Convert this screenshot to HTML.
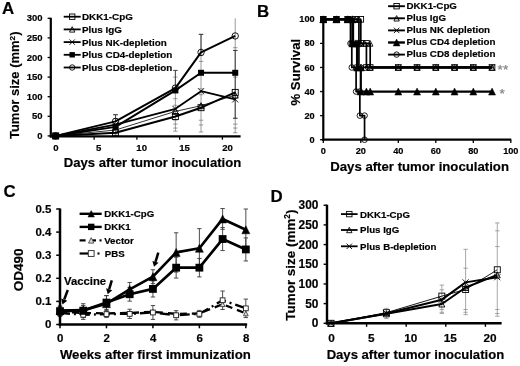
<!DOCTYPE html>
<html><head><meta charset="utf-8"><title>Figure</title>
<style>
html,body{margin:0;padding:0;background:#fff;}
svg{display:block;font-family:'Liberation Sans', sans-serif;filter:blur(0.3px);}
</style></head>
<body>
<svg width="520" height="366" viewBox="0 0 520 366">
<rect width="520" height="366" fill="#fff"/>
<text transform="translate(2.1,14.4) scale(0.97,1)" font-size="17.4" font-weight="bold" stroke="#000" stroke-width="0.18">A</text>
<line x1="115.53" y1="114.73" x2="115.53" y2="135.90" stroke="#707070" stroke-width="0.7" />
<line x1="113.33" y1="114.73" x2="117.73" y2="114.73" stroke="#707070" stroke-width="0.7" />
<line x1="113.33" y1="118.65" x2="117.73" y2="118.65" stroke="#707070" stroke-width="0.7" />
<line x1="113.33" y1="133.94" x2="117.73" y2="133.94" stroke="#707070" stroke-width="0.7" />
<line x1="115.53" y1="114.73" x2="115.53" y2="121.40" stroke="#444" stroke-width="1.0" />
<line x1="113.12" y1="114.73" x2="117.93" y2="114.73" stroke="#444" stroke-width="1.0" />
<line x1="175.38" y1="70.44" x2="175.38" y2="131.20" stroke="#707070" stroke-width="0.7" />
<line x1="173.18" y1="70.44" x2="177.57" y2="70.44" stroke="#707070" stroke-width="0.7" />
<line x1="173.18" y1="77.10" x2="177.57" y2="77.10" stroke="#707070" stroke-width="0.7" />
<line x1="173.18" y1="98.66" x2="177.57" y2="98.66" stroke="#707070" stroke-width="0.7" />
<line x1="173.18" y1="105.32" x2="177.57" y2="105.32" stroke="#707070" stroke-width="0.7" />
<line x1="173.18" y1="120.22" x2="177.57" y2="120.22" stroke="#707070" stroke-width="0.7" />
<line x1="173.18" y1="124.14" x2="177.57" y2="124.14" stroke="#707070" stroke-width="0.7" />
<line x1="173.18" y1="128.06" x2="177.57" y2="128.06" stroke="#707070" stroke-width="0.7" />
<line x1="173.18" y1="131.20" x2="177.57" y2="131.20" stroke="#707070" stroke-width="0.7" />
<line x1="201.03" y1="34.37" x2="201.03" y2="131.98" stroke="#707070" stroke-width="0.7" />
<line x1="198.83" y1="34.37" x2="203.22" y2="34.37" stroke="#707070" stroke-width="0.7" />
<line x1="198.83" y1="55.54" x2="203.22" y2="55.54" stroke="#707070" stroke-width="0.7" />
<line x1="198.83" y1="61.42" x2="203.22" y2="61.42" stroke="#707070" stroke-width="0.7" />
<line x1="198.83" y1="88.86" x2="203.22" y2="88.86" stroke="#707070" stroke-width="0.7" />
<line x1="198.83" y1="94.74" x2="203.22" y2="94.74" stroke="#707070" stroke-width="0.7" />
<line x1="198.83" y1="120.22" x2="203.22" y2="120.22" stroke="#707070" stroke-width="0.7" />
<line x1="198.83" y1="124.92" x2="203.22" y2="124.92" stroke="#707070" stroke-width="0.7" />
<line x1="198.83" y1="131.98" x2="203.22" y2="131.98" stroke="#707070" stroke-width="0.7" />
<line x1="235.23" y1="18.30" x2="235.23" y2="132.76" stroke="#707070" stroke-width="0.7" />
<line x1="233.03" y1="47.70" x2="237.43" y2="47.70" stroke="#707070" stroke-width="0.7" />
<line x1="233.03" y1="50.44" x2="237.43" y2="50.44" stroke="#707070" stroke-width="0.7" />
<line x1="233.03" y1="77.10" x2="237.43" y2="77.10" stroke="#707070" stroke-width="0.7" />
<line x1="233.03" y1="118.26" x2="237.43" y2="118.26" stroke="#707070" stroke-width="0.7" />
<line x1="233.03" y1="124.14" x2="237.43" y2="124.14" stroke="#707070" stroke-width="0.7" />
<line x1="233.03" y1="128.06" x2="237.43" y2="128.06" stroke="#707070" stroke-width="0.7" />
<line x1="233.03" y1="132.76" x2="237.43" y2="132.76" stroke="#707070" stroke-width="0.7" />
<line x1="235.23" y1="50.44" x2="235.23" y2="118.26" stroke="#333" stroke-width="0.9" />
<line x1="233.03" y1="50.44" x2="237.43" y2="50.44" stroke="#333" stroke-width="0.9" />
<line x1="233.03" y1="118.26" x2="237.43" y2="118.26" stroke="#333" stroke-width="0.9" />
<line x1="201.03" y1="34.37" x2="201.03" y2="52.40" stroke="#333" stroke-width="0.9" />
<line x1="198.83" y1="34.37" x2="203.22" y2="34.37" stroke="#333" stroke-width="0.9" />
<line x1="175.38" y1="70.44" x2="175.38" y2="88.86" stroke="#444" stroke-width="0.9" />
<line x1="173.18" y1="70.44" x2="177.57" y2="70.44" stroke="#444" stroke-width="0.9" />
<polyline points="55.67,135.90 115.53,132.76 175.38,116.50 201.03,107.68 235.23,92.39" fill="none" stroke="#000" stroke-width="2.0" stroke-linejoin="round" />
<polyline points="55.67,135.90 115.53,130.02 175.38,111.40 201.03,105.72 235.23,95.13" fill="none" stroke="#000" stroke-width="0.8" stroke-linejoin="round" />
<polyline points="55.67,135.90 115.53,124.53 175.38,108.85 201.03,91.21 235.23,99.44" fill="none" stroke="#000" stroke-width="1.8" stroke-linejoin="round" />
<polyline points="55.67,135.90 115.53,126.88 175.38,90.43 201.03,72.79 235.23,72.79" fill="none" stroke="#000" stroke-width="2.0" stroke-linejoin="round" />
<polyline points="55.67,135.90 115.53,121.40 175.38,88.08 201.03,52.40 235.23,35.94" fill="none" stroke="#000" stroke-width="2.0" stroke-linejoin="round" />
<rect x="52.67" y="132.90" width="6.0" height="6.0" fill="none" stroke="#000" stroke-width="0.9"/>
<rect x="112.53" y="129.76" width="6.0" height="6.0" fill="none" stroke="#000" stroke-width="0.9"/>
<rect x="172.38" y="113.50" width="6.0" height="6.0" fill="none" stroke="#000" stroke-width="0.9"/>
<rect x="198.03" y="104.68" width="6.0" height="6.0" fill="none" stroke="#000" stroke-width="0.9"/>
<rect x="232.23" y="89.39" width="6.0" height="6.0" fill="none" stroke="#000" stroke-width="0.9"/>
<polygon points="55.67,132.90 58.67,138.90 52.67,138.90" fill="none" stroke="#000" stroke-width="0.9"/>
<polygon points="115.53,127.02 118.53,133.02 112.53,133.02" fill="none" stroke="#000" stroke-width="0.9"/>
<polygon points="175.38,108.40 178.38,114.40 172.38,114.40" fill="none" stroke="#000" stroke-width="0.9"/>
<polygon points="201.03,102.72 204.03,108.72 198.03,108.72" fill="none" stroke="#000" stroke-width="0.9"/>
<polygon points="235.23,92.13 238.23,98.13 232.23,98.13" fill="none" stroke="#000" stroke-width="0.9"/>
<path d="M52.67,132.90L58.67,138.90M52.67,138.90L58.67,132.90" stroke="#000" stroke-width="0.9" fill="none"/>
<path d="M112.53,121.53L118.53,127.53M112.53,127.53L118.53,121.53" stroke="#000" stroke-width="0.9" fill="none"/>
<path d="M172.38,105.85L178.38,111.85M172.38,111.85L178.38,105.85" stroke="#000" stroke-width="0.9" fill="none"/>
<path d="M198.03,88.21L204.03,94.21M198.03,94.21L204.03,88.21" stroke="#000" stroke-width="0.9" fill="none"/>
<path d="M232.23,96.44L238.23,102.44M232.23,102.44L238.23,96.44" stroke="#000" stroke-width="0.9" fill="none"/>
<rect x="52.67" y="132.90" width="6.0" height="6.0" fill="#000"/>
<rect x="112.53" y="123.88" width="6.0" height="6.0" fill="#000"/>
<rect x="172.38" y="87.43" width="6.0" height="6.0" fill="#000"/>
<rect x="198.03" y="69.79" width="6.0" height="6.0" fill="#000"/>
<rect x="232.23" y="69.79" width="6.0" height="6.0" fill="#000"/>
<circle cx="55.67" cy="135.90" r="3.20" fill="none" stroke="#000" stroke-width="0.9"/>
<circle cx="115.53" cy="121.40" r="3.20" fill="none" stroke="#000" stroke-width="0.9"/>
<circle cx="175.38" cy="88.08" r="3.20" fill="none" stroke="#000" stroke-width="0.9"/>
<circle cx="201.03" cy="52.40" r="3.20" fill="none" stroke="#000" stroke-width="0.9"/>
<circle cx="235.23" cy="35.94" r="3.20" fill="none" stroke="#000" stroke-width="0.9"/>
<line x1="50.80" y1="17.80" x2="50.80" y2="137.50" stroke="#000" stroke-width="2.2" />
<line x1="49.70" y1="136.40" x2="240.60" y2="136.40" stroke="#000" stroke-width="2.2" />
<line x1="47.60" y1="135.90" x2="50.80" y2="135.90" stroke="#000" stroke-width="1.3" />
<text x="42.50" y="138.90" font-size="9.5" font-weight="bold" text-anchor="end" fill="#000" stroke="#000" stroke-width="0.18" >0</text>
<line x1="47.60" y1="116.30" x2="50.80" y2="116.30" stroke="#000" stroke-width="1.3" />
<text x="42.50" y="119.30" font-size="9.5" font-weight="bold" text-anchor="end" fill="#000" stroke="#000" stroke-width="0.18" >50</text>
<line x1="47.60" y1="96.70" x2="50.80" y2="96.70" stroke="#000" stroke-width="1.3" />
<text x="42.50" y="99.70" font-size="9.5" font-weight="bold" text-anchor="end" fill="#000" stroke="#000" stroke-width="0.18" >100</text>
<line x1="47.60" y1="77.10" x2="50.80" y2="77.10" stroke="#000" stroke-width="1.3" />
<text x="42.50" y="80.10" font-size="9.5" font-weight="bold" text-anchor="end" fill="#000" stroke="#000" stroke-width="0.18" >150</text>
<line x1="47.60" y1="57.50" x2="50.80" y2="57.50" stroke="#000" stroke-width="1.3" />
<text x="42.50" y="60.50" font-size="9.5" font-weight="bold" text-anchor="end" fill="#000" stroke="#000" stroke-width="0.18" >200</text>
<line x1="47.60" y1="37.90" x2="50.80" y2="37.90" stroke="#000" stroke-width="1.3" />
<text x="42.50" y="40.90" font-size="9.5" font-weight="bold" text-anchor="end" fill="#000" stroke="#000" stroke-width="0.18" >250</text>
<line x1="47.60" y1="18.30" x2="50.80" y2="18.30" stroke="#000" stroke-width="1.3" />
<text x="42.50" y="21.30" font-size="9.5" font-weight="bold" text-anchor="end" fill="#000" stroke="#000" stroke-width="0.18" >300</text>
<line x1="94.15" y1="136.40" x2="94.15" y2="139.70" stroke="#000" stroke-width="1.3" />
<line x1="136.90" y1="136.40" x2="136.90" y2="139.70" stroke="#000" stroke-width="1.3" />
<line x1="179.65" y1="136.40" x2="179.65" y2="139.70" stroke="#000" stroke-width="1.3" />
<line x1="222.40" y1="136.40" x2="222.40" y2="139.70" stroke="#000" stroke-width="1.3" />
<text x="55.80" y="151.00" font-size="9.6" font-weight="bold" text-anchor="middle" fill="#000" stroke="#000" stroke-width="0.18" >0</text>
<text x="98.72" y="151.00" font-size="9.6" font-weight="bold" text-anchor="middle" fill="#000" stroke="#000" stroke-width="0.18" >5</text>
<text x="141.65" y="151.00" font-size="9.6" font-weight="bold" text-anchor="middle" fill="#000" stroke="#000" stroke-width="0.18" >10</text>
<text x="184.57" y="151.00" font-size="9.6" font-weight="bold" text-anchor="middle" fill="#000" stroke="#000" stroke-width="0.18" >15</text>
<text x="227.50" y="151.00" font-size="9.6" font-weight="bold" text-anchor="middle" fill="#000" stroke="#000" stroke-width="0.18" >20</text>
<text x="152.50" y="167.30" font-size="13.1" font-weight="bold" text-anchor="middle" fill="#000" stroke="#000" stroke-width="0.18" >Days after tumor inoculation</text>
<text transform="translate(19.4,85.3) rotate(-90)" font-size="13.0" font-weight="bold" text-anchor="middle" stroke="#000" stroke-width="0.18">Tumor size (mm<tspan font-size="8.1" dy="-4.6">2</tspan><tspan dy="4.6">)</tspan></text>
<line x1="63.70" y1="16.70" x2="80.70" y2="16.70" stroke="#000" stroke-width="1.8" />
<rect x="69.50" y="14.00" width="5.4" height="5.4" fill="none" stroke="#000" stroke-width="0.9"/>
<text x="82.00" y="20.10" font-size="9.85" font-weight="bold" text-anchor="start" fill="#000" stroke="#000" stroke-width="0.18" >DKK1-CpG</text>
<line x1="63.70" y1="29.40" x2="80.70" y2="29.40" stroke="#000" stroke-width="1.8" />
<polygon points="72.20,26.70 74.90,32.10 69.50,32.10" fill="none" stroke="#000" stroke-width="0.9"/>
<text x="82.00" y="32.80" font-size="9.85" font-weight="bold" text-anchor="start" fill="#000" stroke="#000" stroke-width="0.18" >Plus IgG</text>
<line x1="63.70" y1="42.10" x2="80.70" y2="42.10" stroke="#000" stroke-width="1.8" />
<path d="M69.50,39.40L74.90,44.80M69.50,44.80L74.90,39.40" stroke="#000" stroke-width="0.9" fill="none"/>
<text x="82.00" y="45.50" font-size="9.85" font-weight="bold" text-anchor="start" fill="#000" stroke="#000" stroke-width="0.18" >Plus NK-depletion</text>
<line x1="63.70" y1="54.80" x2="80.70" y2="54.80" stroke="#000" stroke-width="1.8" />
<rect x="69.50" y="52.10" width="5.4" height="5.4" fill="#000"/>
<text x="82.00" y="58.20" font-size="9.85" font-weight="bold" text-anchor="start" fill="#000" stroke="#000" stroke-width="0.18" >Plus CD4-depletion</text>
<line x1="63.70" y1="67.50" x2="80.70" y2="67.50" stroke="#000" stroke-width="1.8" />
<circle cx="72.20" cy="67.50" r="2.70" fill="none" stroke="#000" stroke-width="0.9"/>
<text x="82.00" y="70.90" font-size="9.85" font-weight="bold" text-anchor="start" fill="#000" stroke="#000" stroke-width="0.18" >Plus CD8-depletion</text>
<text transform="translate(256.9,16.8) scale(0.97,1)" font-size="17.4" font-weight="bold" stroke="#000" stroke-width="0.18">B</text>
<polyline points="323.30,19.30 336.43,19.30 347.68,19.30 355.18,19.30 360.80,19.30 360.80,43.38 366.43,43.38 366.43,67.46 370.18,67.46 398.30,67.46 417.05,67.46 435.80,67.46 454.55,67.46 473.30,67.46 492.05,67.46" fill="none" stroke="#000" stroke-width="1.7" stroke-linejoin="round" />
<polyline points="323.30,19.30 336.43,19.30 347.68,19.30 355.18,19.30 358.93,19.30 358.93,43.38 364.55,43.38 370.18,43.38 370.18,67.46 398.30,67.46 417.05,67.46 435.80,67.46 454.55,67.46 473.30,67.46 492.05,67.46" fill="none" stroke="#000" stroke-width="1.7" stroke-linejoin="round" />
<polyline points="323.30,19.30 336.43,19.30 347.68,19.30 353.30,19.30 353.30,43.38 358.93,43.38 358.93,67.46 364.55,67.46 398.30,67.46 417.05,67.46 435.80,67.46 454.55,67.46 473.30,67.46 492.05,67.46" fill="none" stroke="#000" stroke-width="1.7" stroke-linejoin="round" />
<polyline points="323.30,19.30 336.43,19.30 347.68,19.30 352.36,19.30 352.36,43.38 355.18,43.38 357.05,43.38 357.05,67.46 360.80,67.46 360.80,91.54 366.43,91.54 370.18,91.54 398.30,91.54 417.05,91.54 435.80,91.54 454.55,91.54 473.30,91.54 492.05,91.54" fill="none" stroke="#000" stroke-width="2.2" stroke-linejoin="round" />
<polyline points="323.30,19.30 336.43,19.30 347.68,19.30 350.49,19.30 350.49,43.38 351.80,43.38 351.80,67.46 356.11,67.46 356.11,91.54 359.86,91.54 359.86,115.62 364.55,115.62 364.55,139.70" fill="none" stroke="#000" stroke-width="1.7" stroke-linejoin="round" />
<line x1="370.18" y1="67.46" x2="492.05" y2="67.46" stroke="#000" stroke-width="2.4" />
<rect x="320.50" y="16.50" width="5.6" height="5.6" fill="none" stroke="#000" stroke-width="0.9"/>
<rect x="333.62" y="16.50" width="5.6" height="5.6" fill="none" stroke="#000" stroke-width="0.9"/>
<rect x="344.88" y="16.50" width="5.6" height="5.6" fill="none" stroke="#000" stroke-width="0.9"/>
<rect x="352.38" y="16.50" width="5.6" height="5.6" fill="none" stroke="#000" stroke-width="0.9"/>
<rect x="358.00" y="16.50" width="5.6" height="5.6" fill="none" stroke="#000" stroke-width="0.9"/>
<rect x="358.00" y="40.58" width="5.6" height="5.6" fill="none" stroke="#000" stroke-width="0.9"/>
<rect x="363.62" y="40.58" width="5.6" height="5.6" fill="none" stroke="#000" stroke-width="0.9"/>
<rect x="363.62" y="64.66" width="5.6" height="5.6" fill="none" stroke="#000" stroke-width="0.9"/>
<rect x="367.38" y="64.66" width="5.6" height="5.6" fill="none" stroke="#000" stroke-width="0.9"/>
<rect x="395.50" y="64.66" width="5.6" height="5.6" fill="none" stroke="#000" stroke-width="0.9"/>
<rect x="414.25" y="64.66" width="5.6" height="5.6" fill="none" stroke="#000" stroke-width="0.9"/>
<rect x="433.00" y="64.66" width="5.6" height="5.6" fill="none" stroke="#000" stroke-width="0.9"/>
<rect x="451.75" y="64.66" width="5.6" height="5.6" fill="none" stroke="#000" stroke-width="0.9"/>
<rect x="470.50" y="64.66" width="5.6" height="5.6" fill="none" stroke="#000" stroke-width="0.9"/>
<rect x="489.25" y="64.66" width="5.6" height="5.6" fill="none" stroke="#000" stroke-width="0.9"/>
<polygon points="323.30,16.50 326.10,22.10 320.50,22.10" fill="none" stroke="#000" stroke-width="0.9"/>
<polygon points="336.43,16.50 339.23,22.10 333.62,22.10" fill="none" stroke="#000" stroke-width="0.9"/>
<polygon points="347.68,16.50 350.48,22.10 344.88,22.10" fill="none" stroke="#000" stroke-width="0.9"/>
<polygon points="355.18,16.50 357.98,22.10 352.38,22.10" fill="none" stroke="#000" stroke-width="0.9"/>
<polygon points="358.93,16.50 361.73,22.10 356.12,22.10" fill="none" stroke="#000" stroke-width="0.9"/>
<polygon points="358.93,40.58 361.73,46.18 356.12,46.18" fill="none" stroke="#000" stroke-width="0.9"/>
<polygon points="364.55,40.58 367.35,46.18 361.75,46.18" fill="none" stroke="#000" stroke-width="0.9"/>
<polygon points="370.18,40.58 372.98,46.18 367.38,46.18" fill="none" stroke="#000" stroke-width="0.9"/>
<polygon points="370.18,64.66 372.98,70.26 367.38,70.26" fill="none" stroke="#000" stroke-width="0.9"/>
<polygon points="398.30,64.66 401.10,70.26 395.50,70.26" fill="none" stroke="#000" stroke-width="0.9"/>
<polygon points="417.05,64.66 419.85,70.26 414.25,70.26" fill="none" stroke="#000" stroke-width="0.9"/>
<polygon points="435.80,64.66 438.60,70.26 433.00,70.26" fill="none" stroke="#000" stroke-width="0.9"/>
<polygon points="454.55,64.66 457.35,70.26 451.75,70.26" fill="none" stroke="#000" stroke-width="0.9"/>
<polygon points="473.30,64.66 476.10,70.26 470.50,70.26" fill="none" stroke="#000" stroke-width="0.9"/>
<polygon points="492.05,64.66 494.85,70.26 489.25,70.26" fill="none" stroke="#000" stroke-width="0.9"/>
<path d="M320.50,16.50L326.10,22.10M320.50,22.10L326.10,16.50" stroke="#000" stroke-width="0.9" fill="none"/>
<path d="M333.62,16.50L339.23,22.10M333.62,22.10L339.23,16.50" stroke="#000" stroke-width="0.9" fill="none"/>
<path d="M344.88,16.50L350.48,22.10M344.88,22.10L350.48,16.50" stroke="#000" stroke-width="0.9" fill="none"/>
<path d="M350.50,16.50L356.10,22.10M350.50,22.10L356.10,16.50" stroke="#000" stroke-width="0.9" fill="none"/>
<path d="M350.50,40.58L356.10,46.18M350.50,46.18L356.10,40.58" stroke="#000" stroke-width="0.9" fill="none"/>
<path d="M356.12,40.58L361.73,46.18M356.12,46.18L361.73,40.58" stroke="#000" stroke-width="0.9" fill="none"/>
<path d="M356.12,64.66L361.73,70.26M356.12,70.26L361.73,64.66" stroke="#000" stroke-width="0.9" fill="none"/>
<path d="M361.75,64.66L367.35,70.26M361.75,70.26L367.35,64.66" stroke="#000" stroke-width="0.9" fill="none"/>
<path d="M395.50,64.66L401.10,70.26M395.50,70.26L401.10,64.66" stroke="#000" stroke-width="0.9" fill="none"/>
<path d="M414.25,64.66L419.85,70.26M414.25,70.26L419.85,64.66" stroke="#000" stroke-width="0.9" fill="none"/>
<path d="M433.00,64.66L438.60,70.26M433.00,70.26L438.60,64.66" stroke="#000" stroke-width="0.9" fill="none"/>
<path d="M451.75,64.66L457.35,70.26M451.75,70.26L457.35,64.66" stroke="#000" stroke-width="0.9" fill="none"/>
<path d="M470.50,64.66L476.10,70.26M470.50,70.26L476.10,64.66" stroke="#000" stroke-width="0.9" fill="none"/>
<path d="M489.25,64.66L494.85,70.26M489.25,70.26L494.85,64.66" stroke="#000" stroke-width="0.9" fill="none"/>
<polygon points="323.30,15.80 326.80,22.80 319.80,22.80" fill="#000" stroke="#000" stroke-width="0.5"/>
<polygon points="336.43,15.80 339.93,22.80 332.93,22.80" fill="#000" stroke="#000" stroke-width="0.5"/>
<polygon points="347.68,15.80 351.18,22.80 344.18,22.80" fill="#000" stroke="#000" stroke-width="0.5"/>
<polygon points="352.36,15.80 355.86,22.80 348.86,22.80" fill="#000" stroke="#000" stroke-width="0.5"/>
<polygon points="352.36,39.88 355.86,46.88 348.86,46.88" fill="#000" stroke="#000" stroke-width="0.5"/>
<polygon points="355.18,39.88 358.68,46.88 351.68,46.88" fill="#000" stroke="#000" stroke-width="0.5"/>
<polygon points="357.05,39.88 360.55,46.88 353.55,46.88" fill="#000" stroke="#000" stroke-width="0.5"/>
<polygon points="357.05,63.96 360.55,70.96 353.55,70.96" fill="#000" stroke="#000" stroke-width="0.5"/>
<polygon points="360.80,63.96 364.30,70.96 357.30,70.96" fill="#000" stroke="#000" stroke-width="0.5"/>
<polygon points="360.80,88.04 364.30,95.04 357.30,95.04" fill="#000" stroke="#000" stroke-width="0.5"/>
<polygon points="366.43,88.04 369.93,95.04 362.93,95.04" fill="#000" stroke="#000" stroke-width="0.5"/>
<polygon points="370.18,88.04 373.68,95.04 366.68,95.04" fill="#000" stroke="#000" stroke-width="0.5"/>
<polygon points="398.30,88.04 401.80,95.04 394.80,95.04" fill="#000" stroke="#000" stroke-width="0.5"/>
<polygon points="417.05,88.04 420.55,95.04 413.55,95.04" fill="#000" stroke="#000" stroke-width="0.5"/>
<polygon points="435.80,88.04 439.30,95.04 432.30,95.04" fill="#000" stroke="#000" stroke-width="0.5"/>
<polygon points="454.55,88.04 458.05,95.04 451.05,95.04" fill="#000" stroke="#000" stroke-width="0.5"/>
<polygon points="473.30,88.04 476.80,95.04 469.80,95.04" fill="#000" stroke="#000" stroke-width="0.5"/>
<polygon points="492.05,88.04 495.55,95.04 488.55,95.04" fill="#000" stroke="#000" stroke-width="0.5"/>
<circle cx="323.30" cy="19.30" r="2.80" fill="none" stroke="#000" stroke-width="0.9"/>
<circle cx="336.43" cy="19.30" r="2.80" fill="none" stroke="#000" stroke-width="0.9"/>
<circle cx="347.68" cy="19.30" r="2.80" fill="none" stroke="#000" stroke-width="0.9"/>
<circle cx="350.49" cy="19.30" r="2.80" fill="none" stroke="#000" stroke-width="0.9"/>
<circle cx="350.49" cy="43.38" r="2.80" fill="none" stroke="#000" stroke-width="0.9"/>
<circle cx="351.80" cy="43.38" r="2.80" fill="none" stroke="#000" stroke-width="0.9"/>
<circle cx="351.80" cy="67.46" r="2.80" fill="none" stroke="#000" stroke-width="0.9"/>
<circle cx="356.11" cy="67.46" r="2.80" fill="none" stroke="#000" stroke-width="0.9"/>
<circle cx="356.11" cy="91.54" r="2.80" fill="none" stroke="#000" stroke-width="0.9"/>
<circle cx="359.86" cy="91.54" r="2.80" fill="none" stroke="#000" stroke-width="0.9"/>
<circle cx="359.86" cy="115.62" r="2.80" fill="none" stroke="#000" stroke-width="0.9"/>
<circle cx="364.55" cy="115.62" r="2.80" fill="none" stroke="#000" stroke-width="0.9"/>
<circle cx="364.55" cy="139.70" r="2.80" fill="none" stroke="#000" stroke-width="0.9"/>
<rect x="320.70" y="16.70" width="5.2" height="5.2" fill="#000"/>
<polygon points="323.30,16.10 326.50,22.50 320.10,22.50" fill="#000" stroke="#000" stroke-width="0.5"/>
<rect x="333.82" y="16.70" width="5.2" height="5.2" fill="#000"/>
<polygon points="336.43,16.10 339.62,22.50 333.23,22.50" fill="#000" stroke="#000" stroke-width="0.5"/>
<rect x="345.07" y="16.70" width="5.2" height="5.2" fill="#000"/>
<polygon points="347.68,16.10 350.88,22.50 344.48,22.50" fill="#000" stroke="#000" stroke-width="0.5"/>
<line x1="323.30" y1="18.80" x2="323.30" y2="140.80" stroke="#000" stroke-width="2.2" />
<line x1="322.20" y1="139.70" x2="511.30" y2="139.70" stroke="#000" stroke-width="2.2" />
<line x1="320.10" y1="139.70" x2="323.30" y2="139.70" stroke="#000" stroke-width="1.3" />
<text x="314.70" y="142.80" font-size="9.2" font-weight="bold" text-anchor="end" fill="#000" stroke="#000" stroke-width="0.18" >0</text>
<line x1="320.10" y1="115.62" x2="323.30" y2="115.62" stroke="#000" stroke-width="1.3" />
<text x="314.70" y="118.72" font-size="9.2" font-weight="bold" text-anchor="end" fill="#000" stroke="#000" stroke-width="0.18" >20</text>
<line x1="320.10" y1="91.54" x2="323.30" y2="91.54" stroke="#000" stroke-width="1.3" />
<text x="314.70" y="94.64" font-size="9.2" font-weight="bold" text-anchor="end" fill="#000" stroke="#000" stroke-width="0.18" >40</text>
<line x1="320.10" y1="67.46" x2="323.30" y2="67.46" stroke="#000" stroke-width="1.3" />
<text x="314.70" y="70.56" font-size="9.2" font-weight="bold" text-anchor="end" fill="#000" stroke="#000" stroke-width="0.18" >60</text>
<line x1="320.10" y1="43.38" x2="323.30" y2="43.38" stroke="#000" stroke-width="1.3" />
<text x="314.70" y="46.48" font-size="9.2" font-weight="bold" text-anchor="end" fill="#000" stroke="#000" stroke-width="0.18" >80</text>
<line x1="320.10" y1="19.30" x2="323.30" y2="19.30" stroke="#000" stroke-width="1.3" />
<text x="314.70" y="22.40" font-size="9.2" font-weight="bold" text-anchor="end" fill="#000" stroke="#000" stroke-width="0.18" >100</text>
<line x1="323.30" y1="139.70" x2="323.30" y2="143.00" stroke="#000" stroke-width="1.3" />
<text x="323.30" y="154.20" font-size="9.2" font-weight="bold" text-anchor="middle" fill="#000" stroke="#000" stroke-width="0.18" >0</text>
<line x1="360.80" y1="139.70" x2="360.80" y2="143.00" stroke="#000" stroke-width="1.3" />
<text x="360.80" y="154.20" font-size="9.2" font-weight="bold" text-anchor="middle" fill="#000" stroke="#000" stroke-width="0.18" >20</text>
<line x1="398.30" y1="139.70" x2="398.30" y2="143.00" stroke="#000" stroke-width="1.3" />
<text x="398.30" y="154.20" font-size="9.2" font-weight="bold" text-anchor="middle" fill="#000" stroke="#000" stroke-width="0.18" >40</text>
<line x1="435.80" y1="139.70" x2="435.80" y2="143.00" stroke="#000" stroke-width="1.3" />
<text x="435.80" y="154.20" font-size="9.2" font-weight="bold" text-anchor="middle" fill="#000" stroke="#000" stroke-width="0.18" >60</text>
<line x1="473.30" y1="139.70" x2="473.30" y2="143.00" stroke="#000" stroke-width="1.3" />
<text x="473.30" y="154.20" font-size="9.2" font-weight="bold" text-anchor="middle" fill="#000" stroke="#000" stroke-width="0.18" >80</text>
<line x1="510.80" y1="139.70" x2="510.80" y2="143.00" stroke="#000" stroke-width="1.3" />
<text x="510.80" y="154.20" font-size="9.2" font-weight="bold" text-anchor="middle" fill="#000" stroke="#000" stroke-width="0.18" >100</text>
<text x="419.60" y="171.10" font-size="13.2" font-weight="bold" text-anchor="middle" fill="#000" stroke="#000" stroke-width="0.18" >Days after tumor inoculation</text>
<text transform="translate(300.1,72.2) rotate(-90)" font-size="13.2" font-weight="bold" text-anchor="middle" stroke="#000" stroke-width="0.18">% Survival</text>
<text x="497.60" y="73.80" font-size="13.6" font-weight="normal" text-anchor="start" fill="#808080" stroke="#808080" stroke-width="0.18" >**</text>
<text x="499.60" y="98.20" font-size="13.6" font-weight="normal" text-anchor="start" fill="#808080" stroke="#808080" stroke-width="0.18" >*</text>
<line x1="388.10" y1="6.20" x2="404.90" y2="6.20" stroke="#000" stroke-width="1.9" />
<rect x="393.90" y="3.50" width="5.4" height="5.4" fill="none" stroke="#000" stroke-width="0.9"/>
<text x="406.50" y="9.00" font-size="9.78" font-weight="bold" text-anchor="start" fill="#000" stroke="#000" stroke-width="0.18" >DKK1-CpG</text>
<line x1="388.10" y1="18.30" x2="404.90" y2="18.30" stroke="#000" stroke-width="1.9" />
<polygon points="396.60,15.60 399.30,21.00 393.90,21.00" fill="none" stroke="#000" stroke-width="0.9"/>
<text x="406.50" y="21.10" font-size="9.78" font-weight="bold" text-anchor="start" fill="#000" stroke="#000" stroke-width="0.18" >Plus IgG</text>
<line x1="388.10" y1="30.40" x2="404.90" y2="30.40" stroke="#000" stroke-width="1.9" />
<path d="M393.90,27.70L399.30,33.10M393.90,33.10L399.30,27.70" stroke="#000" stroke-width="0.9" fill="none"/>
<text x="406.50" y="33.20" font-size="9.78" font-weight="bold" text-anchor="start" fill="#000" stroke="#000" stroke-width="0.18" >Plus NK depletion</text>
<line x1="388.10" y1="42.50" x2="404.90" y2="42.50" stroke="#000" stroke-width="2.4" />
<polygon points="396.60,39.10 400.00,45.90 393.20,45.90" fill="#000" stroke="#000" stroke-width="0.5"/>
<text x="406.50" y="45.30" font-size="9.78" font-weight="bold" text-anchor="start" fill="#000" stroke="#000" stroke-width="0.18" >Plus CD4 depletion</text>
<line x1="388.10" y1="54.60" x2="404.90" y2="54.60" stroke="#000" stroke-width="1.9" />
<circle cx="396.60" cy="54.60" r="2.70" fill="none" stroke="#000" stroke-width="0.9"/>
<text x="406.50" y="57.40" font-size="9.78" font-weight="bold" text-anchor="start" fill="#000" stroke="#000" stroke-width="0.18" >Plus CD8 depletion</text>
<text transform="translate(3.6,197.4) scale(0.97,1)" font-size="17.4" font-weight="bold" stroke="#000" stroke-width="0.18">C</text>
<line x1="60.00" y1="306.02" x2="60.00" y2="315.26" stroke="#3a3a3a" stroke-width="0.9" />
<line x1="57.80" y1="306.02" x2="62.20" y2="306.02" stroke="#3a3a3a" stroke-width="0.9" />
<line x1="57.80" y1="315.26" x2="62.20" y2="315.26" stroke="#3a3a3a" stroke-width="0.9" />
<line x1="60.00" y1="306.48" x2="60.00" y2="315.72" stroke="#3a3a3a" stroke-width="0.9" />
<line x1="57.80" y1="306.48" x2="62.20" y2="306.48" stroke="#3a3a3a" stroke-width="0.9" />
<line x1="57.80" y1="315.72" x2="62.20" y2="315.72" stroke="#3a3a3a" stroke-width="0.9" />
<line x1="60.00" y1="309.49" x2="60.00" y2="316.42" stroke="#3a3a3a" stroke-width="0.9" />
<line x1="57.80" y1="309.49" x2="62.20" y2="309.49" stroke="#3a3a3a" stroke-width="0.9" />
<line x1="57.80" y1="316.42" x2="62.20" y2="316.42" stroke="#3a3a3a" stroke-width="0.9" />
<line x1="83.23" y1="305.56" x2="83.23" y2="314.80" stroke="#3a3a3a" stroke-width="0.9" />
<line x1="81.03" y1="305.56" x2="85.43" y2="305.56" stroke="#3a3a3a" stroke-width="0.9" />
<line x1="81.03" y1="314.80" x2="85.43" y2="314.80" stroke="#3a3a3a" stroke-width="0.9" />
<line x1="83.23" y1="303.71" x2="83.23" y2="317.57" stroke="#3a3a3a" stroke-width="0.9" />
<line x1="81.03" y1="303.71" x2="85.43" y2="303.71" stroke="#3a3a3a" stroke-width="0.9" />
<line x1="81.03" y1="317.57" x2="85.43" y2="317.57" stroke="#3a3a3a" stroke-width="0.9" />
<line x1="83.23" y1="310.18" x2="83.23" y2="319.42" stroke="#3a3a3a" stroke-width="0.9" />
<line x1="81.03" y1="310.18" x2="85.43" y2="310.18" stroke="#3a3a3a" stroke-width="0.9" />
<line x1="81.03" y1="319.42" x2="85.43" y2="319.42" stroke="#3a3a3a" stroke-width="0.9" />
<line x1="106.46" y1="295.62" x2="106.46" y2="311.80" stroke="#3a3a3a" stroke-width="0.9" />
<line x1="104.26" y1="295.62" x2="108.66" y2="295.62" stroke="#3a3a3a" stroke-width="0.9" />
<line x1="104.26" y1="311.80" x2="108.66" y2="311.80" stroke="#3a3a3a" stroke-width="0.9" />
<line x1="106.46" y1="295.62" x2="106.46" y2="309.49" stroke="#3a3a3a" stroke-width="0.9" />
<line x1="104.26" y1="295.62" x2="108.66" y2="295.62" stroke="#3a3a3a" stroke-width="0.9" />
<line x1="104.26" y1="309.49" x2="108.66" y2="309.49" stroke="#3a3a3a" stroke-width="0.9" />
<line x1="106.46" y1="310.64" x2="106.46" y2="317.57" stroke="#3a3a3a" stroke-width="0.9" />
<line x1="104.26" y1="310.64" x2="108.66" y2="310.64" stroke="#3a3a3a" stroke-width="0.9" />
<line x1="104.26" y1="317.57" x2="108.66" y2="317.57" stroke="#3a3a3a" stroke-width="0.9" />
<line x1="129.69" y1="282.46" x2="129.69" y2="296.32" stroke="#3a3a3a" stroke-width="0.9" />
<line x1="127.49" y1="282.46" x2="131.89" y2="282.46" stroke="#3a3a3a" stroke-width="0.9" />
<line x1="127.49" y1="296.32" x2="131.89" y2="296.32" stroke="#3a3a3a" stroke-width="0.9" />
<line x1="129.69" y1="287.31" x2="129.69" y2="301.17" stroke="#3a3a3a" stroke-width="0.9" />
<line x1="127.49" y1="287.31" x2="131.89" y2="287.31" stroke="#3a3a3a" stroke-width="0.9" />
<line x1="127.49" y1="301.17" x2="131.89" y2="301.17" stroke="#3a3a3a" stroke-width="0.9" />
<line x1="129.69" y1="309.25" x2="129.69" y2="318.49" stroke="#3a3a3a" stroke-width="0.9" />
<line x1="127.49" y1="309.25" x2="131.89" y2="309.25" stroke="#3a3a3a" stroke-width="0.9" />
<line x1="127.49" y1="318.49" x2="131.89" y2="318.49" stroke="#3a3a3a" stroke-width="0.9" />
<line x1="152.92" y1="269.75" x2="152.92" y2="283.61" stroke="#3a3a3a" stroke-width="0.9" />
<line x1="150.72" y1="269.75" x2="155.12" y2="269.75" stroke="#3a3a3a" stroke-width="0.9" />
<line x1="150.72" y1="283.61" x2="155.12" y2="283.61" stroke="#3a3a3a" stroke-width="0.9" />
<line x1="152.92" y1="280.84" x2="152.92" y2="297.01" stroke="#3a3a3a" stroke-width="0.9" />
<line x1="150.72" y1="280.84" x2="155.12" y2="280.84" stroke="#3a3a3a" stroke-width="0.9" />
<line x1="150.72" y1="297.01" x2="155.12" y2="297.01" stroke="#3a3a3a" stroke-width="0.9" />
<line x1="152.92" y1="305.56" x2="152.92" y2="319.42" stroke="#3a3a3a" stroke-width="0.9" />
<line x1="150.72" y1="305.56" x2="155.12" y2="305.56" stroke="#3a3a3a" stroke-width="0.9" />
<line x1="150.72" y1="319.42" x2="155.12" y2="319.42" stroke="#3a3a3a" stroke-width="0.9" />
<line x1="176.15" y1="232.79" x2="176.15" y2="272.06" stroke="#3a3a3a" stroke-width="0.9" />
<line x1="173.95" y1="232.79" x2="178.35" y2="232.79" stroke="#3a3a3a" stroke-width="0.9" />
<line x1="173.95" y1="272.06" x2="178.35" y2="272.06" stroke="#3a3a3a" stroke-width="0.9" />
<line x1="176.15" y1="257.28" x2="176.15" y2="278.07" stroke="#3a3a3a" stroke-width="0.9" />
<line x1="173.95" y1="257.28" x2="178.35" y2="257.28" stroke="#3a3a3a" stroke-width="0.9" />
<line x1="173.95" y1="278.07" x2="178.35" y2="278.07" stroke="#3a3a3a" stroke-width="0.9" />
<line x1="176.15" y1="310.64" x2="176.15" y2="319.88" stroke="#3a3a3a" stroke-width="0.9" />
<line x1="173.95" y1="310.64" x2="178.35" y2="310.64" stroke="#3a3a3a" stroke-width="0.9" />
<line x1="173.95" y1="319.88" x2="178.35" y2="319.88" stroke="#3a3a3a" stroke-width="0.9" />
<line x1="199.38" y1="228.63" x2="199.38" y2="267.90" stroke="#3a3a3a" stroke-width="0.9" />
<line x1="197.18" y1="228.63" x2="201.58" y2="228.63" stroke="#3a3a3a" stroke-width="0.9" />
<line x1="197.18" y1="267.90" x2="201.58" y2="267.90" stroke="#3a3a3a" stroke-width="0.9" />
<line x1="199.38" y1="258.43" x2="199.38" y2="276.91" stroke="#3a3a3a" stroke-width="0.9" />
<line x1="197.18" y1="258.43" x2="201.58" y2="258.43" stroke="#3a3a3a" stroke-width="0.9" />
<line x1="197.18" y1="276.91" x2="201.58" y2="276.91" stroke="#3a3a3a" stroke-width="0.9" />
<line x1="199.38" y1="310.41" x2="199.38" y2="317.34" stroke="#3a3a3a" stroke-width="0.9" />
<line x1="197.18" y1="310.41" x2="201.58" y2="310.41" stroke="#3a3a3a" stroke-width="0.9" />
<line x1="197.18" y1="317.34" x2="201.58" y2="317.34" stroke="#3a3a3a" stroke-width="0.9" />
<line x1="222.61" y1="208.54" x2="222.61" y2="229.33" stroke="#3a3a3a" stroke-width="0.9" />
<line x1="220.41" y1="208.54" x2="224.81" y2="208.54" stroke="#3a3a3a" stroke-width="0.9" />
<line x1="220.41" y1="229.33" x2="224.81" y2="229.33" stroke="#3a3a3a" stroke-width="0.9" />
<line x1="222.61" y1="227.48" x2="222.61" y2="250.58" stroke="#3a3a3a" stroke-width="0.9" />
<line x1="220.41" y1="227.48" x2="224.81" y2="227.48" stroke="#3a3a3a" stroke-width="0.9" />
<line x1="220.41" y1="250.58" x2="224.81" y2="250.58" stroke="#3a3a3a" stroke-width="0.9" />
<line x1="222.61" y1="291.00" x2="222.61" y2="309.49" stroke="#3a3a3a" stroke-width="0.9" />
<line x1="220.41" y1="291.00" x2="224.81" y2="291.00" stroke="#3a3a3a" stroke-width="0.9" />
<line x1="220.41" y1="309.49" x2="224.81" y2="309.49" stroke="#3a3a3a" stroke-width="0.9" />
<line x1="245.84" y1="209.00" x2="245.84" y2="250.58" stroke="#3a3a3a" stroke-width="0.9" />
<line x1="243.64" y1="209.00" x2="248.04" y2="209.00" stroke="#3a3a3a" stroke-width="0.9" />
<line x1="243.64" y1="250.58" x2="248.04" y2="250.58" stroke="#3a3a3a" stroke-width="0.9" />
<line x1="245.84" y1="237.88" x2="245.84" y2="260.98" stroke="#3a3a3a" stroke-width="0.9" />
<line x1="243.64" y1="237.88" x2="248.04" y2="237.88" stroke="#3a3a3a" stroke-width="0.9" />
<line x1="243.64" y1="260.98" x2="248.04" y2="260.98" stroke="#3a3a3a" stroke-width="0.9" />
<line x1="245.84" y1="299.09" x2="245.84" y2="317.57" stroke="#3a3a3a" stroke-width="0.9" />
<line x1="243.64" y1="299.09" x2="248.04" y2="299.09" stroke="#3a3a3a" stroke-width="0.9" />
<line x1="243.64" y1="317.57" x2="248.04" y2="317.57" stroke="#3a3a3a" stroke-width="0.9" />
<polyline points="60.00,311.80 83.23,312.95 106.46,313.41 129.69,312.95 152.92,311.80 176.15,313.87 199.38,313.41 222.61,304.17 245.84,313.41" fill="none" stroke="#000" stroke-width="2.3" stroke-linejoin="round" stroke-dasharray="7 5"/>
<polyline points="60.00,312.95 83.23,314.80 106.46,314.11 129.69,313.87 152.92,312.49 176.15,315.26 199.38,313.87 222.61,300.25 245.84,308.33" fill="none" stroke="#000" stroke-width="2.3" stroke-linejoin="round" stroke-dasharray="10 4 2 4"/>
<polyline points="60.00,310.64 83.23,310.18 106.46,303.71 129.69,289.39 152.92,276.68 176.15,252.43 199.38,248.27 222.61,218.93 245.84,229.79" fill="none" stroke="#000" stroke-width="2.7" stroke-linejoin="round" />
<polyline points="60.00,311.10 83.23,310.64 106.46,302.56 129.69,294.24 152.92,288.93 176.15,267.67 199.38,267.67 222.61,239.03 245.84,249.43" fill="none" stroke="#000" stroke-width="2.7" stroke-linejoin="round" />
<polygon points="60.00,309.40 62.40,314.19 57.60,314.19" fill="#ddd" stroke="#555" stroke-width="1.0"/>
<rect x="57.60" y="310.55" width="4.8" height="4.8" fill="#fff" stroke="#222" stroke-width="0.9"/>
<polygon points="83.23,310.55 85.63,315.35 80.83,315.35" fill="#ddd" stroke="#555" stroke-width="1.0"/>
<rect x="80.83" y="312.40" width="4.8" height="4.8" fill="#fff" stroke="#222" stroke-width="0.9"/>
<polygon points="106.46,311.01 108.86,315.81 104.06,315.81" fill="#ddd" stroke="#555" stroke-width="1.0"/>
<rect x="104.06" y="311.71" width="4.8" height="4.8" fill="#fff" stroke="#222" stroke-width="0.9"/>
<polygon points="129.69,310.55 132.09,315.35 127.29,315.35" fill="#ddd" stroke="#555" stroke-width="1.0"/>
<rect x="127.29" y="311.47" width="4.8" height="4.8" fill="#fff" stroke="#222" stroke-width="0.9"/>
<polygon points="152.92,309.40 155.32,314.19 150.52,314.19" fill="#ddd" stroke="#555" stroke-width="1.0"/>
<rect x="150.52" y="310.09" width="4.8" height="4.8" fill="#fff" stroke="#222" stroke-width="0.9"/>
<polygon points="176.15,311.47 178.55,316.27 173.75,316.27" fill="#ddd" stroke="#555" stroke-width="1.0"/>
<rect x="173.75" y="312.86" width="4.8" height="4.8" fill="#fff" stroke="#222" stroke-width="0.9"/>
<polygon points="199.38,311.01 201.78,315.81 196.98,315.81" fill="#ddd" stroke="#555" stroke-width="1.0"/>
<rect x="196.98" y="311.47" width="4.8" height="4.8" fill="#fff" stroke="#222" stroke-width="0.9"/>
<polygon points="222.61,301.77 225.01,306.57 220.21,306.57" fill="#ddd" stroke="#555" stroke-width="1.0"/>
<rect x="220.21" y="297.85" width="4.8" height="4.8" fill="#fff" stroke="#222" stroke-width="0.9"/>
<polygon points="245.84,311.01 248.24,315.81 243.44,315.81" fill="#ddd" stroke="#555" stroke-width="1.0"/>
<rect x="243.44" y="305.93" width="4.8" height="4.8" fill="#fff" stroke="#222" stroke-width="0.9"/>
<rect x="56.10" y="307.20" width="7.8" height="7.8" fill="#000"/>
<polygon points="60.00,306.64 64.00,314.64 56.00,314.64" fill="#000" stroke="#000" stroke-width="0.5"/>
<rect x="79.33" y="306.74" width="7.8" height="7.8" fill="#000"/>
<polygon points="83.23,306.18 87.23,314.18 79.23,314.18" fill="#000" stroke="#000" stroke-width="0.5"/>
<rect x="102.56" y="298.66" width="7.8" height="7.8" fill="#000"/>
<polygon points="106.46,299.71 110.46,307.71 102.46,307.71" fill="#000" stroke="#000" stroke-width="0.5"/>
<rect x="125.79" y="290.34" width="7.8" height="7.8" fill="#000"/>
<polygon points="129.69,285.39 133.69,293.39 125.69,293.39" fill="#000" stroke="#000" stroke-width="0.5"/>
<rect x="149.02" y="285.03" width="7.8" height="7.8" fill="#000"/>
<polygon points="152.92,272.68 156.92,280.68 148.92,280.68" fill="#000" stroke="#000" stroke-width="0.5"/>
<rect x="172.25" y="263.77" width="7.8" height="7.8" fill="#000"/>
<polygon points="176.15,248.43 180.15,256.43 172.15,256.43" fill="#000" stroke="#000" stroke-width="0.5"/>
<rect x="195.48" y="263.77" width="7.8" height="7.8" fill="#000"/>
<polygon points="199.38,244.27 203.38,252.27 195.38,252.27" fill="#000" stroke="#000" stroke-width="0.5"/>
<rect x="218.71" y="235.13" width="7.8" height="7.8" fill="#000"/>
<polygon points="222.61,214.93 226.61,222.93 218.61,222.93" fill="#000" stroke="#000" stroke-width="0.5"/>
<rect x="241.94" y="245.53" width="7.8" height="7.8" fill="#000"/>
<polygon points="245.84,225.79 249.84,233.79 241.84,233.79" fill="#000" stroke="#000" stroke-width="0.5"/>
<line x1="60.00" y1="208.50" x2="60.00" y2="325.70" stroke="#000" stroke-width="2.5" />
<line x1="58.80" y1="324.50" x2="247.14" y2="324.50" stroke="#000" stroke-width="2.5" />
<line x1="56.20" y1="324.50" x2="60.00" y2="324.50" stroke="#000" stroke-width="1.5" />
<text x="51.40" y="328.20" font-size="11.5" font-weight="bold" text-anchor="end" fill="#000" stroke="#000" stroke-width="0.18" >0</text>
<line x1="56.20" y1="301.40" x2="60.00" y2="301.40" stroke="#000" stroke-width="1.5" />
<text x="51.40" y="305.10" font-size="11.5" font-weight="bold" text-anchor="end" fill="#000" stroke="#000" stroke-width="0.18" >0.1</text>
<line x1="56.20" y1="278.30" x2="60.00" y2="278.30" stroke="#000" stroke-width="1.5" />
<text x="51.40" y="282.00" font-size="11.5" font-weight="bold" text-anchor="end" fill="#000" stroke="#000" stroke-width="0.18" >0.2</text>
<line x1="56.20" y1="255.20" x2="60.00" y2="255.20" stroke="#000" stroke-width="1.5" />
<text x="51.40" y="258.90" font-size="11.5" font-weight="bold" text-anchor="end" fill="#000" stroke="#000" stroke-width="0.18" >0.3</text>
<line x1="56.20" y1="232.10" x2="60.00" y2="232.10" stroke="#000" stroke-width="1.5" />
<text x="51.40" y="235.80" font-size="11.5" font-weight="bold" text-anchor="end" fill="#000" stroke="#000" stroke-width="0.18" >0.4</text>
<line x1="56.20" y1="209.00" x2="60.00" y2="209.00" stroke="#000" stroke-width="1.5" />
<text x="51.40" y="212.70" font-size="11.5" font-weight="bold" text-anchor="end" fill="#000" stroke="#000" stroke-width="0.18" >0.5</text>
<line x1="60.00" y1="324.50" x2="60.00" y2="328.30" stroke="#000" stroke-width="1.5" />
<text x="60.30" y="341.80" font-size="11.5" font-weight="bold" text-anchor="middle" fill="#000" stroke="#000" stroke-width="0.18" >0</text>
<line x1="106.46" y1="324.50" x2="106.46" y2="328.30" stroke="#000" stroke-width="1.5" />
<text x="106.76" y="341.80" font-size="11.5" font-weight="bold" text-anchor="middle" fill="#000" stroke="#000" stroke-width="0.18" >2</text>
<line x1="152.92" y1="324.50" x2="152.92" y2="328.30" stroke="#000" stroke-width="1.5" />
<text x="153.22" y="341.80" font-size="11.5" font-weight="bold" text-anchor="middle" fill="#000" stroke="#000" stroke-width="0.18" >4</text>
<line x1="199.38" y1="324.50" x2="199.38" y2="328.30" stroke="#000" stroke-width="1.5" />
<text x="199.68" y="341.80" font-size="11.5" font-weight="bold" text-anchor="middle" fill="#000" stroke="#000" stroke-width="0.18" >6</text>
<line x1="245.84" y1="324.50" x2="245.84" y2="328.30" stroke="#000" stroke-width="1.5" />
<text x="246.14" y="341.80" font-size="11.5" font-weight="bold" text-anchor="middle" fill="#000" stroke="#000" stroke-width="0.18" >8</text>
<text x="155.40" y="358.70" font-size="13.2" font-weight="bold" text-anchor="middle" fill="#000" stroke="#000" stroke-width="0.18" >Weeks after first immunization</text>
<text transform="translate(22.6,269.8) rotate(-90)" font-size="13.5" font-weight="bold" text-anchor="middle" stroke="#000" stroke-width="0.18">OD490</text>
<text x="64.00" y="285.00" font-size="11.3" font-weight="bold" text-anchor="start" fill="#000" stroke="#000" stroke-width="0.18" >Vaccine</text>
<line x1="67.80" y1="290.00" x2="64.23" y2="299.53" stroke="#000" stroke-width="2.5" />
<polygon points="62.40,304.40 61.21,298.40 67.24,300.66" fill="#000"/>
<line x1="111.80" y1="280.40" x2="109.18" y2="289.22" stroke="#000" stroke-width="2.5" />
<polygon points="107.70,294.20 106.09,288.30 112.27,290.13" fill="#000"/>
<line x1="158.30" y1="252.60" x2="155.51" y2="261.82" stroke="#000" stroke-width="2.5" />
<polygon points="154.00,266.80 152.42,260.89 158.59,262.76" fill="#000"/>
<line x1="79.60" y1="213.80" x2="101.70" y2="213.80" stroke="#000" stroke-width="2.4" />
<polygon points="91.20,210.60 94.40,217.00 88.00,217.00" fill="#000" stroke="#000" stroke-width="0.5"/>
<text x="104.20" y="217.20" font-size="9.7" font-weight="bold" text-anchor="start" fill="#000" stroke="#000" stroke-width="0.18" >DKK1-CpG</text>
<line x1="79.60" y1="226.90" x2="101.70" y2="226.90" stroke="#000" stroke-width="2.4" />
<rect x="88.00" y="223.70" width="6.4" height="6.4" fill="#000"/>
<text x="104.20" y="230.30" font-size="9.7" font-weight="bold" text-anchor="start" fill="#000" stroke="#000" stroke-width="0.18" >DKK1</text>
<line x1="79.60" y1="240.40" x2="85.60" y2="240.40" stroke="#000" stroke-width="2.2" />
<line x1="92.00" y1="240.40" x2="96.00" y2="240.40" stroke="#000" stroke-width="2.2" />
<line x1="99.50" y1="240.40" x2="101.50" y2="240.40" stroke="#000" stroke-width="2.2" />
<polygon points="91.20,237.70 93.90,243.10 88.50,243.10" fill="#ddd" stroke="#555" stroke-width="1.0"/>
<text x="104.20" y="243.80" font-size="9.7" font-weight="bold" text-anchor="start" fill="#000" stroke="#000" stroke-width="0.18" >Vector</text>
<line x1="79.60" y1="253.50" x2="88.10" y2="253.50" stroke="#000" stroke-width="2.2" />
<line x1="97.50" y1="253.50" x2="99.50" y2="253.50" stroke="#000" stroke-width="2.2" />
<rect x="88.30" y="250.60" width="5.8" height="5.8" fill="#fff" stroke="#222" stroke-width="0.9"/>
<text x="104.80" y="256.90" font-size="9.7" font-weight="bold" text-anchor="start" fill="#000" stroke="#000" stroke-width="0.18" >PBS</text>
<text transform="translate(270.4,202.1) scale(0.97,1)" font-size="17.4" font-weight="bold" stroke="#000" stroke-width="0.18">D</text>
<line x1="386.40" y1="308.34" x2="386.40" y2="318.58" stroke="#8a8a8a" stroke-width="0.75" />
<line x1="384.20" y1="308.34" x2="388.60" y2="308.34" stroke="#8a8a8a" stroke-width="0.75" />
<line x1="384.20" y1="318.58" x2="388.60" y2="318.58" stroke="#8a8a8a" stroke-width="0.75" />
<line x1="441.84" y1="285.12" x2="441.84" y2="313.46" stroke="#8a8a8a" stroke-width="0.75" />
<line x1="439.64" y1="285.12" x2="444.04" y2="285.12" stroke="#8a8a8a" stroke-width="0.75" />
<line x1="439.64" y1="289.84" x2="444.04" y2="289.84" stroke="#8a8a8a" stroke-width="0.75" />
<line x1="439.64" y1="309.52" x2="444.04" y2="309.52" stroke="#8a8a8a" stroke-width="0.75" />
<line x1="439.64" y1="312.28" x2="444.04" y2="312.28" stroke="#8a8a8a" stroke-width="0.75" />
<line x1="439.64" y1="313.46" x2="444.04" y2="313.46" stroke="#8a8a8a" stroke-width="0.75" />
<line x1="465.60" y1="249.30" x2="465.60" y2="314.64" stroke="#8a8a8a" stroke-width="0.75" />
<line x1="463.40" y1="249.30" x2="467.80" y2="249.30" stroke="#8a8a8a" stroke-width="0.75" />
<line x1="463.40" y1="268.20" x2="467.80" y2="268.20" stroke="#8a8a8a" stroke-width="0.75" />
<line x1="463.40" y1="309.52" x2="467.80" y2="309.52" stroke="#8a8a8a" stroke-width="0.75" />
<line x1="463.40" y1="312.28" x2="467.80" y2="312.28" stroke="#8a8a8a" stroke-width="0.75" />
<line x1="463.40" y1="314.64" x2="467.80" y2="314.64" stroke="#8a8a8a" stroke-width="0.75" />
<line x1="497.28" y1="222.93" x2="497.28" y2="316.22" stroke="#8a8a8a" stroke-width="0.75" />
<line x1="495.08" y1="222.93" x2="499.48" y2="222.93" stroke="#8a8a8a" stroke-width="0.75" />
<line x1="495.08" y1="230.80" x2="499.48" y2="230.80" stroke="#8a8a8a" stroke-width="0.75" />
<line x1="495.08" y1="246.55" x2="499.48" y2="246.55" stroke="#8a8a8a" stroke-width="0.75" />
<line x1="495.08" y1="309.52" x2="499.48" y2="309.52" stroke="#8a8a8a" stroke-width="0.75" />
<line x1="495.08" y1="313.46" x2="499.48" y2="313.46" stroke="#8a8a8a" stroke-width="0.75" />
<line x1="495.08" y1="316.22" x2="499.48" y2="316.22" stroke="#8a8a8a" stroke-width="0.75" />
<polyline points="330.96,323.30 386.40,312.67 441.84,296.14 465.60,289.45 497.28,269.77" fill="none" stroke="#000" stroke-width="0.9" stroke-linejoin="round" />
<polyline points="330.96,323.30 386.40,313.85 441.84,304.01 465.60,287.48 497.28,274.89" fill="none" stroke="#000" stroke-width="2.0" stroke-linejoin="round" />
<polyline points="330.96,323.30 386.40,313.46 441.84,299.68 465.60,282.37 497.28,277.25" fill="none" stroke="#000" stroke-width="2.0" stroke-linejoin="round" />
<rect x="327.96" y="320.30" width="6.0" height="6.0" fill="none" stroke="#000" stroke-width="0.9"/>
<rect x="383.40" y="309.67" width="6.0" height="6.0" fill="none" stroke="#000" stroke-width="0.9"/>
<rect x="438.84" y="293.14" width="6.0" height="6.0" fill="none" stroke="#000" stroke-width="0.9"/>
<rect x="462.60" y="286.45" width="6.0" height="6.0" fill="none" stroke="#000" stroke-width="0.9"/>
<rect x="494.28" y="266.77" width="6.0" height="6.0" fill="none" stroke="#000" stroke-width="0.9"/>
<polygon points="330.96,320.30 333.96,326.30 327.96,326.30" fill="none" stroke="#000" stroke-width="0.9"/>
<polygon points="386.40,310.85 389.40,316.85 383.40,316.85" fill="none" stroke="#000" stroke-width="0.9"/>
<polygon points="441.84,301.01 444.84,307.01 438.84,307.01" fill="none" stroke="#000" stroke-width="0.9"/>
<polygon points="465.60,284.48 468.60,290.48 462.60,290.48" fill="none" stroke="#000" stroke-width="0.9"/>
<polygon points="497.28,271.89 500.28,277.89 494.28,277.89" fill="none" stroke="#000" stroke-width="0.9"/>
<path d="M327.96,320.30L333.96,326.30M327.96,326.30L333.96,320.30" stroke="#000" stroke-width="0.9" fill="none"/>
<path d="M383.40,310.46L389.40,316.46M383.40,316.46L389.40,310.46" stroke="#000" stroke-width="0.9" fill="none"/>
<path d="M438.84,296.68L444.84,302.68M438.84,302.68L444.84,296.68" stroke="#000" stroke-width="0.9" fill="none"/>
<path d="M462.60,279.37L468.60,285.37M462.60,285.37L468.60,279.37" stroke="#000" stroke-width="0.9" fill="none"/>
<path d="M494.28,274.25L500.28,280.25M494.28,280.25L500.28,274.25" stroke="#000" stroke-width="0.9" fill="none"/>
<line x1="327.00" y1="204.72" x2="327.00" y2="324.50" stroke="#000" stroke-width="2.4" />
<line x1="325.80" y1="323.30" x2="501.64" y2="323.30" stroke="#000" stroke-width="2.4" />
<line x1="323.60" y1="323.30" x2="327.00" y2="323.30" stroke="#000" stroke-width="1.4" />
<text x="318.40" y="327.30" font-size="11.9" font-weight="bold" text-anchor="end" fill="#000" stroke="#000" stroke-width="0.18" >0</text>
<line x1="323.60" y1="303.62" x2="327.00" y2="303.62" stroke="#000" stroke-width="1.4" />
<text x="318.40" y="307.62" font-size="11.9" font-weight="bold" text-anchor="end" fill="#000" stroke="#000" stroke-width="0.18" >50</text>
<line x1="323.60" y1="283.94" x2="327.00" y2="283.94" stroke="#000" stroke-width="1.4" />
<text x="318.40" y="287.94" font-size="11.9" font-weight="bold" text-anchor="end" fill="#000" stroke="#000" stroke-width="0.18" >100</text>
<line x1="323.60" y1="264.26" x2="327.00" y2="264.26" stroke="#000" stroke-width="1.4" />
<text x="318.40" y="268.26" font-size="11.9" font-weight="bold" text-anchor="end" fill="#000" stroke="#000" stroke-width="0.18" >150</text>
<line x1="323.60" y1="244.58" x2="327.00" y2="244.58" stroke="#000" stroke-width="1.4" />
<text x="318.40" y="248.58" font-size="11.9" font-weight="bold" text-anchor="end" fill="#000" stroke="#000" stroke-width="0.18" >200</text>
<line x1="323.60" y1="224.90" x2="327.00" y2="224.90" stroke="#000" stroke-width="1.4" />
<text x="318.40" y="228.90" font-size="11.9" font-weight="bold" text-anchor="end" fill="#000" stroke="#000" stroke-width="0.18" >250</text>
<line x1="323.60" y1="205.22" x2="327.00" y2="205.22" stroke="#000" stroke-width="1.4" />
<text x="318.40" y="209.22" font-size="11.9" font-weight="bold" text-anchor="end" fill="#000" stroke="#000" stroke-width="0.18" >300</text>
<line x1="366.60" y1="323.30" x2="366.60" y2="326.80" stroke="#000" stroke-width="1.4" />
<line x1="406.20" y1="323.30" x2="406.20" y2="326.80" stroke="#000" stroke-width="1.4" />
<line x1="445.80" y1="323.30" x2="445.80" y2="326.80" stroke="#000" stroke-width="1.4" />
<line x1="485.40" y1="323.30" x2="485.40" y2="326.80" stroke="#000" stroke-width="1.4" />
<text x="331.56" y="341.60" font-size="11.8" font-weight="bold" text-anchor="middle" fill="#000" stroke="#000" stroke-width="0.18" >0</text>
<text x="371.16" y="341.60" font-size="11.8" font-weight="bold" text-anchor="middle" fill="#000" stroke="#000" stroke-width="0.18" >5</text>
<text x="410.76" y="341.60" font-size="11.8" font-weight="bold" text-anchor="middle" fill="#000" stroke="#000" stroke-width="0.18" >10</text>
<text x="450.36" y="341.60" font-size="11.8" font-weight="bold" text-anchor="middle" fill="#000" stroke="#000" stroke-width="0.18" >15</text>
<text x="489.96" y="341.60" font-size="11.8" font-weight="bold" text-anchor="middle" fill="#000" stroke="#000" stroke-width="0.18" >20</text>
<text x="415.40" y="358.60" font-size="13.1" font-weight="bold" text-anchor="middle" fill="#000" stroke="#000" stroke-width="0.18" >Days after tumor inoculation</text>
<text transform="translate(295.0,265.1) rotate(-90)" font-size="13.45" font-weight="bold" text-anchor="middle" stroke="#000" stroke-width="0.18">Tumor size (mm<tspan font-size="8.3" dy="-4.6">2</tspan><tspan dy="4.6">)</tspan></text>
<line x1="341.00" y1="214.10" x2="357.60" y2="214.10" stroke="#000" stroke-width="1.8" />
<rect x="346.60" y="211.40" width="5.4" height="5.4" fill="none" stroke="#000" stroke-width="0.9"/>
<text x="360.00" y="217.50" font-size="9.7" font-weight="bold" text-anchor="start" fill="#000" stroke="#000" stroke-width="0.18" >DKK1-CpG</text>
<line x1="341.00" y1="230.00" x2="357.60" y2="230.00" stroke="#000" stroke-width="1.8" />
<polygon points="349.30,227.30 352.00,232.70 346.60,232.70" fill="none" stroke="#000" stroke-width="0.9"/>
<text x="360.00" y="233.40" font-size="9.7" font-weight="bold" text-anchor="start" fill="#000" stroke="#000" stroke-width="0.18" >Plus IgG</text>
<line x1="341.00" y1="246.30" x2="357.60" y2="246.30" stroke="#000" stroke-width="1.8" />
<path d="M346.60,243.60L352.00,249.00M346.60,249.00L352.00,243.60" stroke="#000" stroke-width="0.9" fill="none"/>
<text x="360.00" y="249.70" font-size="9.7" font-weight="bold" text-anchor="start" fill="#000" stroke="#000" stroke-width="0.18" >Plus B-depletion</text>
</svg>
</body></html>
